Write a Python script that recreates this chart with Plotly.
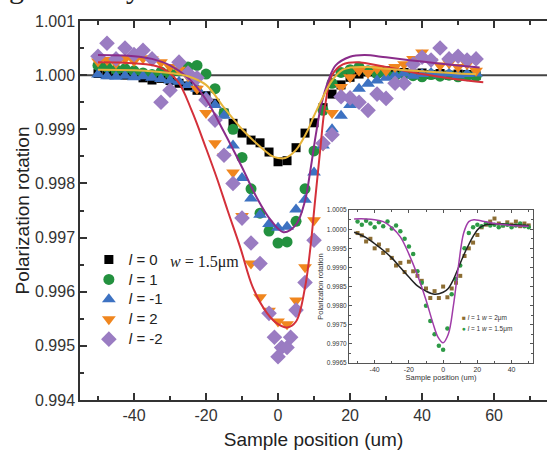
import plotly.graph_objects as go

# ---------------- main chart data ----------------
x_pos = [-50, -47.5, -45, -42.5, -40, -37.5, -35, -32.5, -30, -27.5, -25, -22.5, -20, -17.5, -15,
         -12.5, -10, -7.5, -5, -2.5, 0, 2.5, 5, 7.5, 10, 12.5, 15, 17.5, 20, 22.5, 25, 27.5, 30,
         32.5, 35, 37.5, 40, 42.5, 45, 47.5, 50, 52.5, 55]

l0_vals = [1.00003, 1.00001, 1.00002, 1.00000, 1.00001, 0.99995, 0.99991, 0.99994, 0.99990, 0.99985,
           0.99980, 0.99972, 0.99962, 0.99948, 0.99930, 0.99911, 0.99893, 0.99880, 0.99875, 0.99858,
           0.99840, 0.99842, 0.99866, 0.99893, 0.99912, 0.99940, 0.99965, 0.99982, 0.99996, 1.00002,
           1.00006, 1.00004, 1.00008, 1.00003, 1.00005, 1.00002, 1.00004, 1.00001, 1.00003, 1.00000,
           1.00002, 1.00001, 0.99999]

l1_vals = [1.00018, 1.00015, 1.00010, 1.00012, 1.00008, 1.00004, 1.00001, 1.00006, 1.00003, 1.00008,
           1.00015, 1.00018, 1.00002, 0.99975, 0.99930, 0.99900, 0.99848, 0.99790, 0.99745, 0.99712,
           0.99690, 0.99692, 0.99730, 0.99790, 0.99860, 0.99935, 0.99985, 1.00005, 1.00010, 1.00015,
           1.00008, 1.00003, 1.00005, 0.99998, 1.00002, 0.99999, 0.99997, 1.00001, 0.99998, 1.00000,
           0.99997, 0.99999, 0.99998]

lm1_vals = [1.00001, 0.99998, 0.99997, 0.99999, 0.99996, 0.99998, 0.99995, 0.99993, 0.99990, 0.99988,
            0.99982, 0.99975, 0.99960, 0.99945, 0.99925, 0.99870, 0.99810, 0.99772, 0.99742, 0.99725,
            0.99718, 0.99720, 0.99752, 0.99770, 0.99820, 0.99870, 0.99900, 0.99925, 0.99945, 0.99975,
            0.99984, 0.99990, 0.99995, 1.00000, 1.00003, 0.99999, 1.00002, 1.00004, 1.00001, 1.00003,
            1.00000, 1.00002, 1.00003]

l2_vals = [1.00025, 1.00028, 1.00022, 1.00030, 1.00026, 1.00031, 1.00029, 1.00024, 1.00015, 1.00010,
           0.99998, 0.99975, 0.99930, 0.99874, 0.99850, 0.99820, 0.99740, 0.99652, 0.99590, 0.99565,
           0.99545, 0.99540, 0.99584, 0.99645, 0.99732, 0.99870, 0.99930, 0.99978, 0.99996, 1.00008,
           1.00004, 1.00012, 1.00008, 1.00015, 1.00020, 1.00030, 1.00042, 1.00025, 1.00018, 1.00022,
           1.00015, 1.00020, 1.00008]

lm2_x = [-50, -47.5, -45, -42.5, -40, -37.5, -35, -32.5, -30, -27.5, -25, -22.5, -20, -17.5, -15,
         -12.5, -10, -7.5, -5, -2.5, -1, 0, 1, 2.5, 3.5, 5, 7.5, 10, 12.5, 15, 17.5, 20, 22.5, 25,
         27.5, 30, 32.5, 35, 37.5, 40, 42.5, 45, 47.5, 50, 52.5, 55]
lm2_vals = [1.00035, 1.00059, 1.00030, 1.00050, 1.00038, 1.00046, 1.00030, 0.99950, 0.99972, 1.00024,
            1.00004, 0.99995, 0.99954, 0.99917, 0.99852, 0.99800, 0.99736, 0.99690, 0.99652, 0.99560,
            0.99516, 0.99480, 0.99497, 0.99497, 0.99516, 0.99566, 0.99617, 0.99695, 0.99874, 0.99890,
            0.99960, 0.99958, 0.99950, 0.99935, 0.99965, 0.99957, 0.99985, 0.99985, 1.00020, 1.00033,
            1.00028, 1.00050, 1.00030, 1.00035, 1.00028, 1.00030]

# fitted curves
fit0_x = [-50, -40, -30, -25, -20, -15, -10, -5, -2, 0, 2, 5, 8, 10, 12, 15, 18, 20, 25, 30, 40, 50, 55]
fit0_v = [1.00010, 1.00009, 1.00004, 0.99998, 0.99982, 0.99940, 0.99900, 0.99868, 0.99852, 0.99847,
          0.99847, 0.99862, 0.99895, 0.99925, 0.99953, 0.99990, 1.00010, 1.00014, 1.00015, 1.00012,
          1.00007, 1.00003, 1.00002]

fit1_x = [-50, -40, -35, -30, -25, -20, -15, -10, -6, -2, 1.5, 5, 7.5, 9, 10.5, 12, 14, 16, 20, 24, 30,
          40, 50, 56]
fit1_v = [1.00037, 1.00035, 1.00030, 1.00018, 0.99995, 0.99955, 0.99895, 0.99830, 0.99775, 0.99732,
          0.99710, 0.99724, 0.99768, 0.99825, 0.99890, 0.99945, 0.99990, 1.00018, 1.00034, 1.00037,
          1.00033, 1.00025, 1.00018, 1.00014]

fit2_x = [-50, -40, -33, -28, -24, -20, -17, -14, -10.5, -7, -3, 0, 2.5, 5, 7.5, 9, 10.3, 11.7, 13, 15,
          18, 22, 30, 40, 50, 57]
fit2_v = [1.00024, 1.00022, 1.00015, 0.99990, 0.99935, 0.99865, 0.99810, 0.99750, 0.99682, 0.99608,
          0.99560, 0.99540, 0.99534, 0.99545, 0.99608, 0.99682, 0.99769, 0.99861, 0.99940, 1.00000,
          1.00020, 1.00024, 1.00015, 1.00002, 0.99992, 0.99987]

legend_names = ["<i>l</i> = 0", "<i>l</i> = 1", "<i>l</i> = -1", "<i>l</i> = 2", "<i>l</i> = -2"]

x_ticks = [-40, -20, 0, 20, 40, 60]
x_ticktext = ["-40", "-20", "0", "20", "40", "60"]

# ---------------- inset data ----------------
ix = [-50, -47.5, -45, -42.5, -40, -37.5, -35, -32.5, -30, -27.5, -25, -22.5, -20, -17.5, -15, -12.5,
      -10, -7.5, -5, -2.5, 0, 2.5, 5, 7.5, 10, 12.5, 15, 17.5, 20, 22.5, 25, 27.5, 30, 32.5, 35, 37.5,
      40, 42.5, 45, 47.5, 50]
i_w2 = [0.99990, 0.99984, 0.99968, 0.99975, 0.99950, 0.99960, 0.99938, 0.99945, 0.99925, 0.99905,
        0.99912, 0.99888, 0.99915, 0.99890, 0.99878, 0.99865, 0.99845, 0.99820, 0.99838, 0.99820,
        0.99850, 0.99822, 0.99845, 0.99860, 0.99878, 0.99930, 0.99950, 0.99965, 0.99985, 1.00005,
        1.00012, 1.00020, 1.00028, 1.00015, 1.00010, 1.00018, 1.00012, 1.00020, 1.00008, 1.00015,
        1.00010]
i_w15 = [1.00020, 1.00012, 1.00022, 1.00015, 1.00005, 1.00018, 1.00008, 1.00020, 1.00002, 1.00010,
         0.99995, 0.99975, 0.99955, 0.99935, 0.99890, 0.99860, 0.99800, 0.99760, 0.99725, 0.99695,
         0.99685, 0.99740, 0.99830, 0.99870, 0.99905, 0.99950, 0.99990, 1.00005, 1.00012, 1.00008,
         1.00015, 1.00010, 1.00012, 1.00005, 1.00010, 1.00012, 1.00005, 1.00010, 1.00015, 1.00008,
         1.00005]
ifit_w2_x = [-52, -45, -40, -35, -30, -25, -20, -15, -10, -5, 0, 3, 6, 9, 12, 15, 18, 21, 25, 30, 40, 50]
ifit_w2_v = [0.99992, 0.99978, 0.99962, 0.99945, 0.99925, 0.99900, 0.99875, 0.99852, 0.99838, 0.99830,
             0.99835, 0.99845, 0.99868, 0.99900, 0.99932, 0.99960, 0.99985, 1.00003, 1.00012, 1.00014,
             1.00012, 1.00010]
ifit_w15_x = [-52, -45, -40, -35, -30, -25, -20, -15, -10, -6, -3, 0, 3, 6, 9, 12, 15, 18, 22, 30, 40, 50]
ifit_w15_v = [1.00027, 1.00027, 1.00025, 1.00020, 1.00005, 0.99980, 0.99935, 0.99880, 0.99815, 0.99755,
              0.99718, 0.99703, 0.99725, 0.99800, 0.99905, 0.99990, 1.00020, 1.00025, 1.00022, 1.00015,
              1.00010, 1.00008]
inset_labels = ["<i>l</i> = 1 <i>w</i> = 2μm", "<i>l</i> = 1 <i>w</i> = 1.5μm"]
inset_colors = ["#8C6D33", "#2E9A46"]
ix_ticks = [-40, -20, 0, 20, 40]
ix_ticktext = ["-40", "-20", "0", "20", "40"]

# ---------------- figure ----------------
fig = go.Figure()
series = [
    (x_pos, l0_vals, "square", 9, "#000000"),
    (x_pos, l1_vals, "circle", 11, "#23913F"),
    (x_pos, lm1_vals, "triangle-up", 12, "#3D72C2"),
    (x_pos, l2_vals, "triangle-down", 12, "#F0861E"),
    (lm2_x, lm2_vals, "diamond", 12, "#9A7CC2"),
]
for (xs, ys, sym, sz, col), nm in zip(series, legend_names):
    fig.add_trace(go.Scatter(x=xs, y=ys, mode="markers",
                             name='<span style="font-size:15px">' + nm + "</span>",
                             marker=dict(symbol=sym, size=sz, color=col, line=dict(width=0)),
                             xaxis="x", yaxis="y"))
for fx, fv, col in [(fit2_x, fit2_v, "#D4303A"), (fit1_x, fit1_v, "#8A2C8A"), (fit0_x, fit0_v, "#E6B43A")]:
    fig.add_trace(go.Scatter(x=fx, y=fv, mode="lines", line=dict(color=col, width=2, shape="spline"),
                             showlegend=False, xaxis="x", yaxis="y"))

# inset traces
fig.add_trace(go.Scatter(x=ix, y=i_w2, mode="markers", showlegend=False,
                         marker=dict(symbol="square", size=4, color=inset_colors[0]), xaxis="x2", yaxis="y2"))
fig.add_trace(go.Scatter(x=ix, y=i_w15, mode="markers", showlegend=False,
                         marker=dict(symbol="circle", size=4.5, color=inset_colors[1]), xaxis="x2", yaxis="y2"))
fig.add_trace(go.Scatter(x=ifit_w2_x, y=ifit_w2_v, mode="lines", showlegend=False,
                         line=dict(color="#222222", width=1.5, shape="spline"), xaxis="x2", yaxis="y2"))
fig.add_trace(go.Scatter(x=ifit_w15_x, y=ifit_w15_v, mode="lines", showlegend=False,
                         line=dict(color="#A03CA8", width=1.5, shape="spline"), xaxis="x2", yaxis="y2"))

axis_col = "#333333"
ifx0, ifx1, ify0, ify1 = 0.576, 0.970, 0.0976, 0.501

fig.update_layout(
    width=547, height=454,
    margin=dict(l=80, r=0, t=21, b=54, autoexpand=False),
    paper_bgcolor="white", plot_bgcolor="white",
    font=dict(family="Liberation Sans, Arial, sans-serif", color="#333333"),
    xaxis=dict(range=[-55, 74.7], domain=[0, 1], tickvals=x_ticks, ticktext=x_ticktext,
               ticks="inside", ticklen=7, automargin=False,
               tickwidth=1.5, tickcolor=axis_col, showline=True, linecolor=axis_col, linewidth=1.5,
               mirror="allticks", showgrid=False, zeroline=False,
               minor=dict(ticks="inside", ticklen=4, dtick=10, tick0=0, tickcolor=axis_col, tickwidth=1.5),
               tickfont=dict(size=16, color="#333333"),
               title=dict(text="Sample position (um)", font=dict(size=19, color="#222222"), standoff=10)),
    yaxis=dict(range=[0.994, 1.001], domain=[0, 1], dtick=0.001, tick0=1.0, tickformat=".3f",
               ticks="inside", ticklen=7, tickwidth=1.5, tickcolor=axis_col, showline=True,
               linecolor=axis_col, linewidth=1.5, mirror=False, showgrid=False, zeroline=False,
               automargin=False,
               minor=dict(ticks="inside", ticklen=4, dtick=0.0005, tick0=1.0, tickcolor=axis_col, tickwidth=1.5),
               tickfont=dict(size=16, color="#333333"),
               title=dict(text="Polarization rotation", font=dict(size=19, color="#222222"), standoff=0)),
    xaxis2=dict(range=[-55, 52.5], domain=[ifx0, ifx1], anchor="y2", tickvals=ix_ticks,
                ticktext=ix_ticktext, automargin=False,
                ticks="inside", ticklen=3, tickcolor="#555", showline=True, linecolor="#555", linewidth=1,
                mirror="allticks", showgrid=False, zeroline=False,
                minor=dict(ticks="inside", ticklen=2, dtick=10, tick0=0, tickcolor="#555"),
                tickfont=dict(size=7, color="#333"),
                title=dict(text="Sample position (um)", font=dict(size=7.5, color="#333"), standoff=2)),
    yaxis2=dict(range=[0.9965, 1.0005], domain=[ify0, ify1], anchor="x2", dtick=0.0005, tick0=1.0,
                tickformat=".4f", ticks="inside", ticklen=3, tickcolor="#555", showline=True,
                linecolor="#555", linewidth=1, mirror="allticks", showgrid=False, zeroline=False,
                automargin=False,
                minor=dict(ticks="inside", ticklen=2, dtick=0.00025, tick0=1.0, tickcolor="#555"),
                tickfont=dict(size=6.5, color="#333"),
                title=dict(text="Polarization rotation", font=dict(size=7.5, color="#333"), standoff=2)),
    legend=dict(x=0.019, y=0.41, xanchor="left", yanchor="top", bgcolor="rgba(0,0,0,0)",
                font=dict(size=13, color="#222222"), itemsizing="trace", tracegroupgap=0,
                itemwidth=30),
    showlegend=True,
)

# reference lines at 1.0000
fig.add_shape(type="line", xref="x domain", yref="y", x0=0, x1=1, y0=1.0, y1=1.0,
              line=dict(color="#444444", width=2), layer="below")
fig.add_shape(type="line", xref="x2 domain", yref="y2", x0=0, x1=1, y0=1.0, y1=1.0,
              line=dict(color="#777777", width=1), layer="below")
# white background for inset
fig.add_shape(type="rect", xref="paper", yref="paper", x0=ifx0, x1=ifx1, y0=ify0, y1=ify1,
              fillcolor="white", line=dict(width=0), layer="below")

fig.add_annotation(text="<i>w</i> = 1.5μm", xref="paper", yref="paper", x=0.188, y=0.364,
                   xanchor="left", yanchor="middle", showarrow=False,
                   font=dict(size=16, color="#222222", family="Liberation Serif, Times New Roman, serif"))

# inset legend
for i, (lab, col) in enumerate(zip(inset_labels, inset_colors)):
    sym = "■" if i == 0 else "●"
    fig.add_annotation(text='<span style="color:%s">%s</span> %s' % (col, sym, lab),
                       xref="paper", yref="paper", x=0.813, y=0.2164 - i * 0.028,
                       xanchor="left", yanchor="middle", showarrow=False,
                       font=dict(size=6.5, color="#333"))

# fragments of the cropped text line above the figure
for ch, px in [("g", -0.135), ("y", 0.115)]:
    fig.add_annotation(text=ch, xref="paper", yref="paper", x=px, y=1.04, xanchor="center",
                       yanchor="bottom", showarrow=False,
                       font=dict(size=30, color="#222222", family="Liberation Serif, serif"))

fig.write_html("out.html", config={"displayModeBar": False},
               post_script="document.body.style.margin='0';document.body.style.overflow='hidden';")
